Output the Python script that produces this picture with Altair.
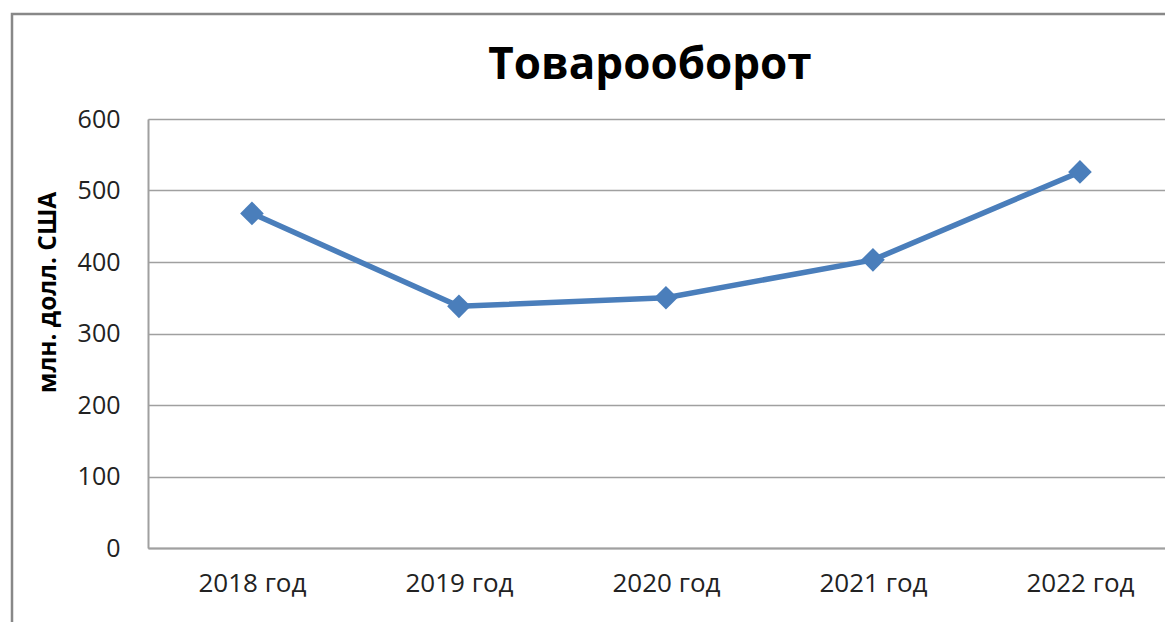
import altair as alt
import pandas as pd

title_text = "Товарооборот"
years = ["2018 год", "2019 год", "2020 год", "2021 год", "2022 год"]
values = [468, 338, 350, 403, 526]
y_ticks = [0, 100, 200, 300, 400, 500, 600]

df = pd.DataFrame({"year": years, "value": values})
one_df = pd.DataFrame({"t": [title_text]})

FONT = "Open Sans"
BLUE = "#4a7ebb"

x_scale = alt.Scale(type="point", padding=0.4565, align=0.55)
x_enc = alt.X("year:N", sort=years, title=None, scale=x_scale,
              axis=alt.Axis(labelAngle=0, ticks=False, labelPadding=22,
                            labelFontSize=26, labelColor="#222", labelFont=FONT,
                            domainColor="#a0a0a0", domainWidth=2, grid=False))
y_enc = alt.Y("value:Q", title="млн. долл. США",
              scale=alt.Scale(domain=[0, 600], nice=False),
              axis=alt.Axis(values=y_ticks, ticks=False, labelPadding=28,
                            labelFontSize=25, labelColor="#222", labelFont=FONT,
                            domainColor="#a0a0a0", domainWidth=2,
                            gridColor="#a0a0a0", gridWidth=1.5,
                            titleFont=FONT, titleFontSize=24.5, titleFontWeight="bold",
                            titleColor="#000", titleAngle=-90, titleX=-100, titleY=173,
                            titleAlign="center", titleBaseline="middle"))

line = alt.Chart(df).mark_line(color=BLUE, strokeWidth=5.5).encode(x=x_enc, y=y_enc)
pts = alt.Chart(df).mark_point(shape="diamond", filled=True, size=560, color=BLUE, opacity=1).encode(
    x=alt.X("year:N", sort=years, scale=x_scale), y="value:Q")

frame = alt.Chart(one_df).mark_rect(fill=None, stroke="#888888", strokeWidth=2.5, clip=False).encode(
    x=alt.value(-136), x2=alt.value(1100), y=alt.value(-105), y2=alt.value(600))

title = alt.Chart(one_df).mark_text(font=FONT, fontSize=44, fontWeight="bold", color="#000",
                                    align="center", baseline="alphabetic").encode(
    text="t:N", x=alt.value(502), y=alt.value(-40))

chart = alt.layer(frame, line, pts, title).properties(
    width=1017, height=429,
    autosize=alt.AutoSizeParams(type="none"),
    padding={"left": 140, "top": 111, "right": 0, "bottom": 74},
).configure_view(stroke=None).configure(background="white")

chart.save("out.html", embed_options={"renderer": "svg", "actions": False})
